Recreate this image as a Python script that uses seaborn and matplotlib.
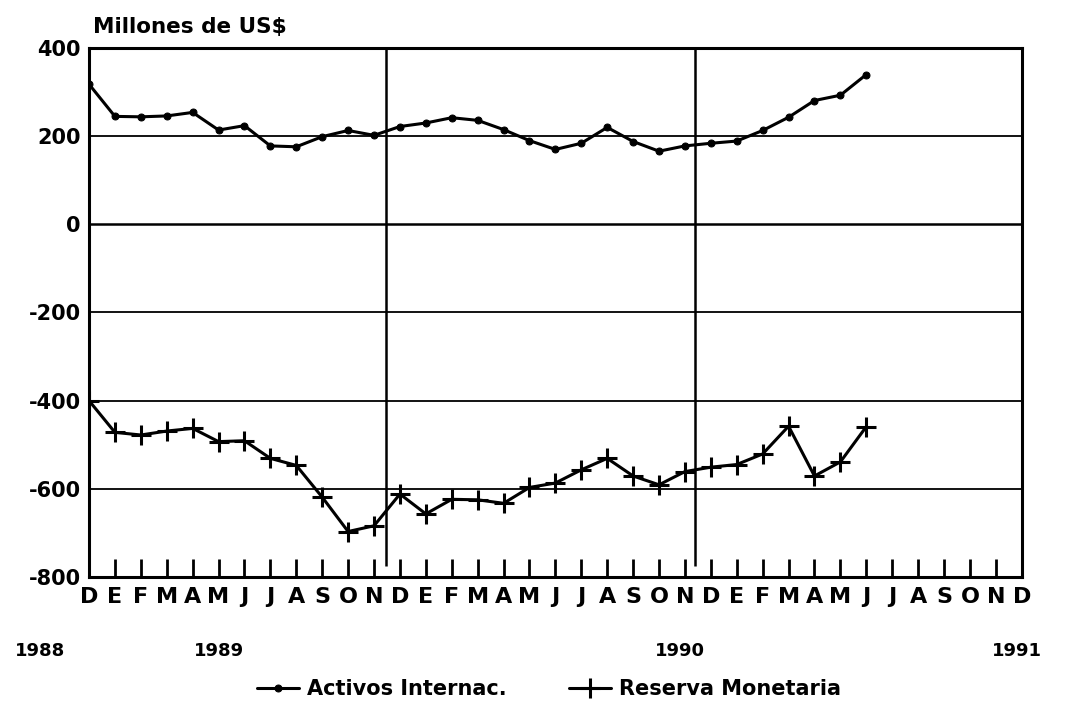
import numpy as np
import pandas as pd
import matplotlib
matplotlib.use("Agg")
import matplotlib.pyplot as plt
import matplotlib.transforms as mtransforms
import seaborn as sns

# Datos (millones de US$), dic 1988 a jun 1991
meses = ['D', 'E', 'F', 'M', 'A', 'M', 'J', 'J', 'A', 'S', 'O', 'N',
         'D', 'E', 'F', 'M', 'A', 'M', 'J', 'J', 'A', 'S', 'O', 'N',
         'D', 'E', 'F', 'M', 'A', 'M', 'J', 'J', 'A', 'S', 'O', 'N', 'D']
anios = ['1988', '1989', '1990', '1991']
anios_pos = [-1.9, 5.0, 22.8, 35.8]

activos = [318, 245, 244, 246, 254, 214, 224, 178, 176, 199, 213, 202,
           222, 230, 242, 236, 215, 190, 170, 184, 220, 188, 166, 178,
           184, 189, 213, 243, 281, 293, 340]
reserva = [-400, -472, -478, -469, -463, -493, -491, -531, -547, -619, -697, -684,
           -612, -657, -624, -625, -633, -597, -587, -557, -531, -571, -591, -561,
           -551, -545, -521, -458, -571, -539, -459]

df = pd.DataFrame({'mes': np.arange(len(activos)),
                   'Activos Internac.': activos,
                   'Reserva Monetaria': reserva})

# Estilo: fondo blanco, todo en negro
sns.set_style("white")
plt.rcParams['font.family'] = ['DejaVu Sans']
plt.rcParams['font.weight'] = 'bold'
plt.rcParams['text.color'] = 'black'
plt.rcParams['xtick.color'] = 'black'
plt.rcParams['ytick.color'] = 'black'

fig = plt.figure(figsize=(10.66, 7.07), dpi=100)
ax = fig.add_axes([0.0835, 0.184, 0.875, 0.748])

# Lineas de referencia horizontales y verticales
for y in [200, 0, -200, -400, -600]:
    ax.axhline(y, color='black', lw=1.3 if y != 0 else 1.8, zorder=1)
ax.vlines([11.45, 23.4], -775, 400, color='black', lw=1.8, zorder=1)

sns.lineplot(data=df, x='mes', y='Activos Internac.', ax=ax, color='black',
             lw=2.2, marker='o', markersize=5, markeredgecolor='black',
             markerfacecolor='black', label='Activos Internac.', zorder=3)
sns.lineplot(data=df, x='mes', y='Reserva Monetaria', ax=ax, color='black',
             lw=2.2, marker='+', markersize=15, markeredgewidth=2.2,
             markeredgecolor='black', label='Reserva Monetaria', zorder=3)

ax.set_xlim(0, 36)
ax.set_ylim(-800, 400)
ax.set_xlabel('')
ax.set_ylabel('')

# Ejes y marcas
for s in ax.spines.values():
    s.set_color('black')
    s.set_linewidth(2.2)
ax.set_yticks([400, 200, 0, -200, -400, -600, -800])
ax.set_yticklabels(['400', '200', '0', '-200', '-400', '-600', '-800'],
                   fontsize=15, fontweight='bold', color='black')
ax.tick_params(axis='y', left=False, length=0, pad=6)
ax.set_xticks(np.arange(len(meses)))
ax.set_xticklabels(meses, fontsize=16, fontweight='bold', color='black')
ax.tick_params(axis='x', bottom=True, direction='in', length=13, width=2,
               pad=7, color='black')

# Anios debajo de los meses
trans = mtransforms.blended_transform_factory(ax.transData, ax.transAxes)
for a, p in zip(anios, anios_pos):
    ax.text(p, -0.14, a, transform=trans, ha='center', va='center',
            fontsize=13, fontweight='bold', color='black', clip_on=False)

fig.text(0.087, 0.962, 'Millones de US$', fontsize=15.5, fontweight='bold',
         color='black', ha='left', va='center')

leg = ax.legend(loc='center', bbox_to_anchor=(0.515, 0.025),
                bbox_transform=fig.transFigure, ncol=2, frameon=False,
                prop={'size': 15, 'weight': 'bold'}, handlelength=2.0,
                columnspacing=3.0, handletextpad=0.4)
for t in leg.get_texts():
    t.set_color('black')

fig.savefig('out.png', dpi=100)
